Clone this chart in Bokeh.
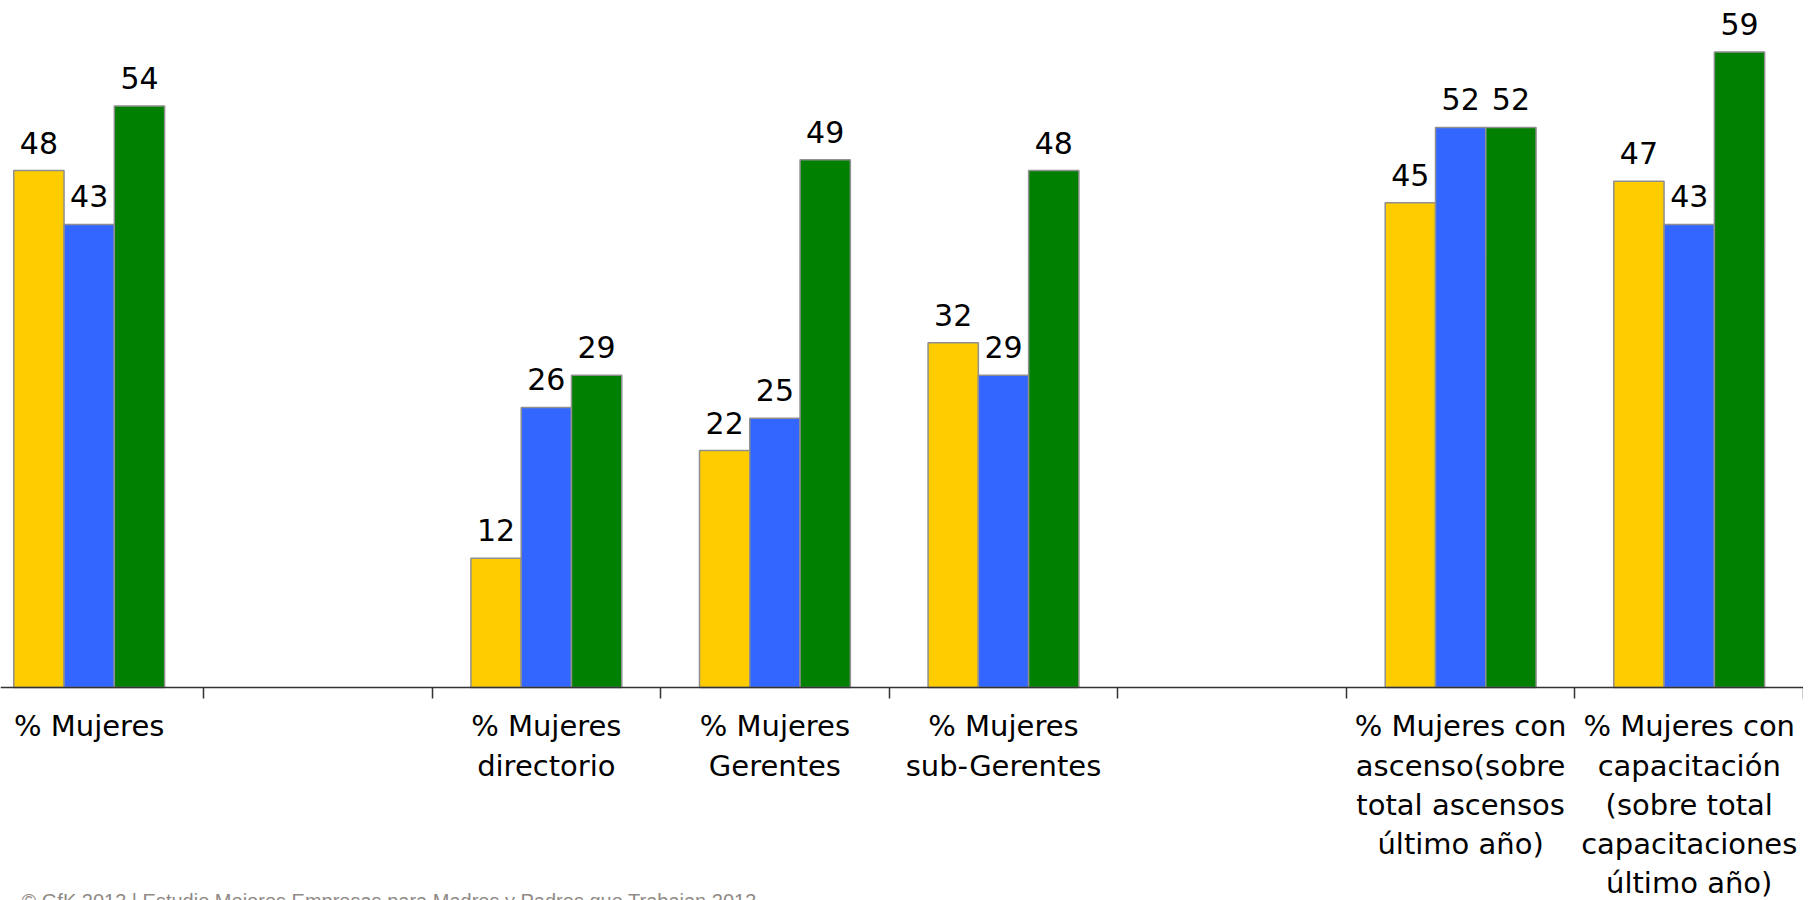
from bokeh.plotting import figure
from bokeh.models import ColumnDataSource, Range1d, FixedTicker, Label
from bokeh.core.properties import value
from bokeh.embed import file_html
from bokeh.resources import INLINE

# ---- data ----
categories = [
    "% Mujeres",
    "",
    "% Mujeres\ndirectorio",
    "% Mujeres\nGerentes",
    "% Mujeres\nsub-Gerentes",
    "",
    "% Mujeres con\nascenso(sobre\ntotal ascensos\núltimo año)",
    "% Mujeres con\ncapacitación\n(sobre total\ncapacitaciones\núltimo año)",
]
serie_1 = [48, None, 12, 22, 32, None, 45, 47]
serie_2 = [43, None, 26, 25, 29, None, 52, 43]
serie_3 = [54, None, 29, 49, 48, None, 52, 59]
series = [serie_1, serie_2, serie_3]
colors = ["#FFCC00", "#3366FF", "#008000"]
footer = "© GfK 2013 | Estudio Mejores Empresas para Madres y Padres que Trabajan 2013"

FONT = "DejaVu Sans"
BAR_W = 0.22
offsets = [-0.22, 0.0, 0.22]

p = figure(
    width=1803, height=900,
    x_range=Range1d(0.112, 8.0), y_range=Range1d(-19.78, 63.79),
    output_backend="svg", toolbar_location=None, title=None,
    y_axis_location=None,
    min_border_left=0, min_border_right=0, min_border_top=0, min_border_bottom=0,
)
p.outline_line_color = None
p.xgrid.visible = False
p.ygrid.visible = False
p.background_fill_color = "white"
p.border_fill_color = "white"

for vals, col, off in zip(series, colors, offsets):
    xs, ys, txt = [], [], []
    for i, v in enumerate(vals):
        if v is None:
            continue
        xs.append(i + 0.5 + off)
        ys.append(v)
        txt.append(str(v))
    src = ColumnDataSource(dict(x=xs, top=ys, label=txt))
    p.vbar(x="x", top="top", bottom=0, width=BAR_W, source=src,
           fill_color=col, line_color="#8F8F8F", line_width=1.5)
    p.text(x="x", y="top", text="label", source=src,
           text_align="center", text_baseline="alphabetic", y_offset=-28,
           text_font=value(FONT), text_font_size="30px", text_color="black")

ax = p.xaxis[0]
ax.fixed_location = 0
centers = [i + 0.5 for i in range(len(categories))]
ax.ticker = FixedTicker(ticks=centers, minor_ticks=list(range(0, len(categories) + 1)))
ax.major_label_overrides = {c: cat for c, cat in zip(centers, categories)}
ax.major_label_text_font = FONT
ax.major_label_text_font_size = "29px"
ax.major_label_text_color = "black"
ax.major_label_text_line_height = 1.15
ax.major_label_standoff = 11
ax.major_tick_out = 0
ax.major_tick_in = 0
ax.minor_tick_out = 11
ax.minor_tick_in = 0
ax.minor_tick_line_color = "#333333"
ax.minor_tick_line_width = 1.5
ax.axis_line_color = "#333333"
ax.axis_line_width = 1.5

p.add_layout(Label(x=21, y=11, x_units="screen", y_units="screen",
                   text=footer, text_align="left", text_baseline="top",
                   text_font="Liberation Sans", text_font_size="20px",
                   text_color="#8F8A85"))

open("out.html", "w").write(file_html(p, INLINE))
